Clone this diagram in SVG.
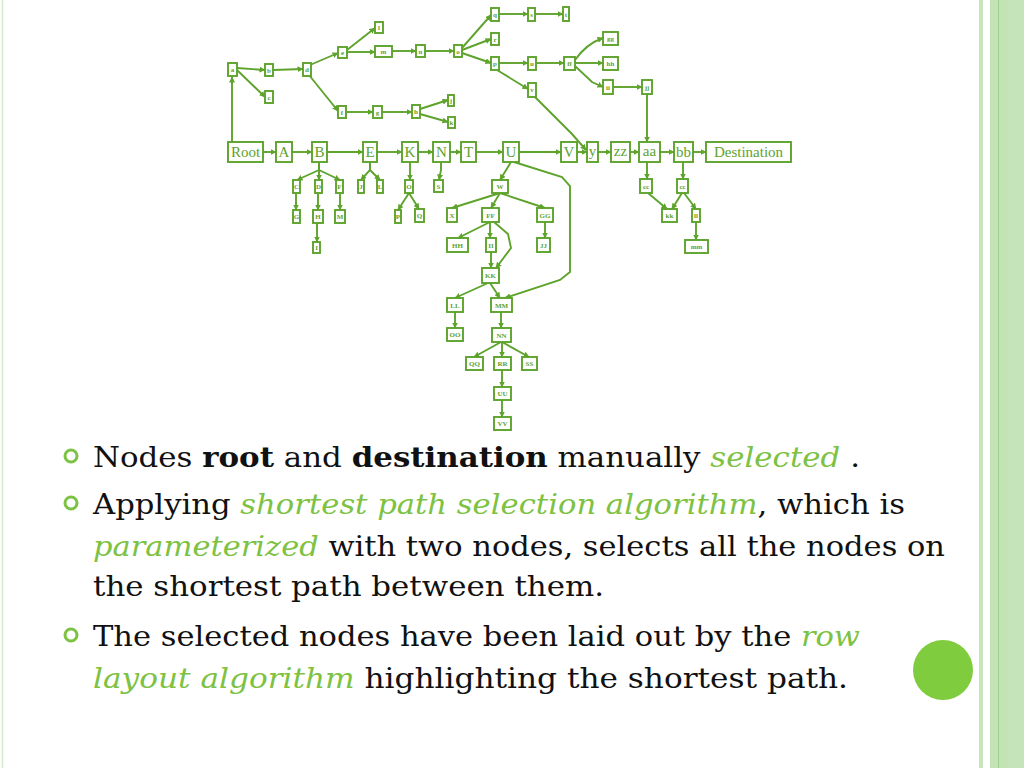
<svg xmlns="http://www.w3.org/2000/svg" width="1024" height="768" viewBox="0 0 1024 768">
<style>
.n rect{fill:#fff;stroke:#5ea32c;stroke-width:1.9}
.n text{font-family:"Liberation Serif",serif;fill:#5ea32c;text-anchor:middle;font-size:7px;font-weight:bold}
.m text{font-size:15px;font-weight:normal}
#edges path{fill:none;stroke:#5ea32c;stroke-width:1.9;marker-end:url(#ah)}
.t{font-family:"DejaVu Serif","Liberation Serif",serif;font-size:28px;fill:#111}
.g{fill:#7dc242;font-style:italic}
.b{font-weight:bold}
.bul{fill:none;stroke:#7dc242;stroke-width:3}
</style>
<defs>
<marker id="ah" markerUnits="userSpaceOnUse" markerWidth="6" markerHeight="6" refX="5.5" refY="3" orient="auto">
<path d="M0,0 L6,3 L0,6 z" fill="#5ea32c"/>
</marker>
</defs>
<rect width="1024" height="768" fill="#fff"/>
<line x1="2.5" y1="0" x2="2.5" y2="768" stroke="#d3ebc8" stroke-width="1.5"/>
<rect x="979" y="0" width="4" height="768" fill="#c8e6bc"/>
<rect x="990" y="0" width="34" height="768" fill="#c6e4b9"/>
<rect x="990" y="0" width="18" height="768" fill="#c3e2b5"/>
<line x1="998.5" y1="0" x2="998.5" y2="768" stroke="#9fcf8a" stroke-width="1"/>
<circle cx="943" cy="670" r="30" fill="#7fcc3e"/>

<g id="edges">
<path d="M263,152 H276"/><path d="M292,152 H312"/><path d="M327,152 H363"/><path d="M377,152 H402"/>
<path d="M418,152 H433"/><path d="M450,152 H461"/><path d="M476,152 H503"/><path d="M519,152 H561"/>
<path d="M577,152 H587"/><path d="M598,152 H611"/><path d="M630,152 H639"/><path d="M660,152 H674"/><path d="M693,152 H706"/>
<path d="M232,142 V77"/>
<path d="M237,68 L265,70"/><path d="M237,70 L265,97"/><path d="M273,70 L303,69"/>
<path d="M310,65 L338,53"/><path d="M309,75 L338,111"/>
<path d="M347,50 L375,28"/><path d="M347,52 H375"/><path d="M392,51 H416"/><path d="M425,51 H454"/>
<path d="M462,48 L491,15"/><path d="M462,50 L491,39"/><path d="M462,53 L491,63"/>
<path d="M499,14 H528"/><path d="M535,14 H563"/><path d="M499,63 H528"/><path d="M536,63 H564"/>
<path d="M497,70 L528,89"/><path d="M535,97 L560,122 L572,134 L586,150"/>
<path d="M575,60 Q586,44 603,38"/><path d="M575,63 H603"/><path d="M575,66 L592,82 L603,87"/>
<path d="M613,87 H642"/><path d="M647,94 V142"/>
<path d="M346,112 H373"/><path d="M382,112 H412"/><path d="M420,109 L448,100"/><path d="M420,114 L448,122"/>
<path d="M319,163 V170 L297,180"/><path d="M319,163 V180"/><path d="M319,163 V170 L340,180"/>
<path d="M296,193 V210"/><path d="M318,193 V210"/><path d="M317,223 V242"/><path d="M340,193 V210"/>
<path d="M370,162 V170 L361,180"/><path d="M370,162 V170 L380,180"/>
<path d="M410,162 V180"/><path d="M409,193 L398,210"/><path d="M409,193 L419,209"/>
<path d="M441,162 V170 L439,180"/>
<path d="M511,162 L500,180"/>
<path d="M500,193 L452,208"/><path d="M500,193 L491,208"/><path d="M500,193 L545,208"/>
<path d="M490,222 L458,238"/><path d="M490,222 V238"/><path d="M545,222 V238"/>
<path d="M491,252 V268"/><path d="M494,222 L508,234 L511,248 L496,268"/>
<path d="M488,283 L455,298"/><path d="M490,283 L500,298"/>
<path d="M514,162 L562,177 L570,186 L570,272 L560,280 L505,298"/>
<path d="M455,312 V328"/><path d="M501,312 V328"/>
<path d="M501,342 L474,357"/><path d="M502,342 V357"/><path d="M502,342 L529,357"/>
<path d="M502,370 V387"/><path d="M502,400 V417"/>
<path d="M647,162 V179"/><path d="M683,162 V179"/>
<path d="M648,193 L667,209"/><path d="M682,193 L672,209"/><path d="M684,193 L696,209"/><path d="M696,222 V240"/>
</g>

<g id="Root" class="n m"><rect x="228" y="142" width="35" height="20"/><text x="245.5" y="157">Root</text></g>
<g id="A" class="n m"><rect x="276" y="142" width="16" height="20"/><text x="284" y="157">A</text></g>
<g id="B" class="n m"><rect x="312" y="142" width="15" height="20"/><text x="319.5" y="157">B</text></g>
<g id="E" class="n m"><rect x="363" y="142" width="14" height="20"/><text x="370" y="157">E</text></g>
<g id="K" class="n m"><rect x="402" y="142" width="16" height="20"/><text x="410" y="157">K</text></g>
<g id="N" class="n m"><rect x="433" y="142" width="17" height="20"/><text x="441.5" y="157">N</text></g>
<g id="T" class="n m"><rect x="461" y="142" width="15" height="20"/><text x="468.5" y="157">T</text></g>
<g id="U" class="n m"><rect x="503" y="142" width="16" height="20"/><text x="511" y="157">U</text></g>
<g id="V" class="n m"><rect x="561" y="142" width="16" height="20"/><text x="569" y="157">V</text></g>
<g id="y" class="n m"><rect x="587" y="142" width="11" height="20"/><text x="592.5" y="156">y</text></g>
<g id="zz" class="n m"><rect x="611" y="142" width="19" height="20"/><text x="620.5" y="156">zz</text></g>
<g id="aa" class="n m"><rect x="639" y="142" width="21" height="20"/><text x="649.5" y="156">aa</text></g>
<g id="bb" class="n m"><rect x="674" y="142" width="19" height="20"/><text x="683.5" y="157">bb</text></g>
<g id="Destination" class="n m"><rect x="706" y="142" width="85" height="20"/><text x="748.5" y="157">Destination</text></g>

<g id="a" class="n"><rect x="228" y="63" width="9" height="13"/><text x="232.5" y="72">a</text></g>
<g id="b" class="n"><rect x="265" y="64" width="8" height="12"/><text x="269" y="73">b</text></g>
<g id="c" class="n"><rect x="265" y="91" width="8" height="12"/><text x="269" y="100">c</text></g>
<g id="d" class="n"><rect x="303" y="63" width="8" height="13"/><text x="307" y="72">d</text></g>
<g id="e" class="n"><rect x="338" y="47" width="9" height="11"/><text x="342.5" y="55">e</text></g>
<g id="l" class="n"><rect x="375" y="22" width="8" height="11"/><text x="379" y="30">l</text></g>
<g id="m" class="n"><rect x="375" y="46" width="17" height="11"/><text x="383.5" y="54">m</text></g>
<g id="n" class="n"><rect x="416" y="45" width="9" height="12"/><text x="420.5" y="54">n</text></g>
<g id="o" class="n"><rect x="454" y="45" width="8" height="12"/><text x="458" y="54">o</text></g>
<g id="q" class="n"><rect x="491" y="8" width="8" height="13"/><text x="495" y="17">q</text></g>
<g id="s" class="n"><rect x="528" y="8" width="7" height="13"/><text x="531.5" y="17">s</text></g>
<g id="t" class="n"><rect x="563" y="7" width="6" height="14"/><text x="566" y="17">t</text></g>
<g id="r" class="n"><rect x="491" y="33" width="8" height="12"/><text x="495" y="42">r</text></g>
<g id="p" class="n"><rect x="491" y="57" width="8" height="13"/><text x="495" y="66">p</text></g>
<g id="u" class="n"><rect x="528" y="57" width="8" height="13"/><text x="532" y="66">u</text></g>
<g id="ff" class="n"><rect x="564" y="57" width="11" height="13"/><text x="569.5" y="66">ff</text></g>
<g id="v" class="n"><rect x="528" y="83" width="8" height="14"/><text x="532" y="92">v</text></g>
<g id="gg" class="n"><rect x="603" y="32" width="15" height="13"/><text x="610.5" y="41">gg</text></g>
<g id="hh" class="n"><rect x="603" y="57" width="15" height="13"/><text x="610.5" y="66">hh</text></g>
<g id="ii" class="n"><rect x="603" y="80" width="10" height="14"/><text x="608" y="90">ii</text></g>
<g id="jj" class="n"><rect x="642" y="80" width="10" height="14"/><text x="647" y="90">jj</text></g>
<g id="f" class="n"><rect x="338" y="106" width="8" height="12"/><text x="342" y="115">f</text></g>
<g id="g" class="n"><rect x="373" y="106" width="9" height="12"/><text x="377.5" y="115">g</text></g>
<g id="h" class="n"><rect x="412" y="105" width="8" height="13"/><text x="416" y="114">h</text></g>
<g id="j" class="n"><rect x="448" y="95" width="6" height="11"/><text x="451" y="103">j</text></g>
<g id="k" class="n"><rect x="448" y="117" width="7" height="11"/><text x="451.5" y="125">k</text></g>

<g id="C" class="n"><rect x="293" y="180" width="7" height="13"/><text x="296.5" y="189">C</text></g>
<g id="D" class="n"><rect x="315" y="180" width="7" height="13"/><text x="318.5" y="189">D</text></g>
<g id="F" class="n"><rect x="336" y="180" width="7" height="13"/><text x="339.5" y="189">F</text></g>
<g id="G" class="n"><rect x="293" y="210" width="7" height="13"/><text x="296.5" y="219">G</text></g>
<g id="H" class="n"><rect x="313" y="210" width="10" height="13"/><text x="318" y="219">H</text></g>
<g id="I" class="n"><rect x="313" y="242" width="7" height="11"/><text x="316.5" y="250">I</text></g>
<g id="M" class="n"><rect x="335" y="210" width="10" height="13"/><text x="340" y="219">M</text></g>
<g id="J" class="n"><rect x="358" y="180" width="6" height="13"/><text x="361" y="189">J</text></g>
<g id="L" class="n"><rect x="377" y="180" width="6" height="13"/><text x="380" y="189">L</text></g>
<g id="O" class="n"><rect x="405" y="180" width="8" height="13"/><text x="409" y="189">O</text></g>
<g id="P" class="n"><rect x="395" y="210" width="6" height="13"/><text x="398" y="219">P</text></g>
<g id="Q" class="n"><rect x="415" y="209" width="9" height="13"/><text x="419.5" y="218">Q</text></g>
<g id="S" class="n"><rect x="434" y="180" width="9" height="12"/><text x="438.5" y="189">S</text></g>
<g id="W" class="n"><rect x="492" y="180" width="16" height="13"/><text x="500" y="189">W</text></g>
<g id="X" class="n"><rect x="447" y="208" width="10" height="14"/><text x="452" y="218">X</text></g>
<g id="FF" class="n"><rect x="482" y="208" width="17" height="14"/><text x="490.5" y="218">FF</text></g>
<g id="GG" class="n"><rect x="537" y="208" width="16" height="14"/><text x="545" y="218">GG</text></g>
<g id="HH" class="n"><rect x="447" y="238" width="21" height="14"/><text x="457.5" y="248">HH</text></g>
<g id="II" class="n"><rect x="486" y="238" width="10" height="14"/><text x="491" y="248">II</text></g>
<g id="JJ" class="n"><rect x="537" y="238" width="13" height="14"/><text x="543.5" y="248">JJ</text></g>
<g id="KK" class="n"><rect x="482" y="268" width="17" height="15"/><text x="490.5" y="278">KK</text></g>
<g id="LL" class="n"><rect x="447" y="298" width="16" height="14"/><text x="455" y="308">LL</text></g>
<g id="MM" class="n"><rect x="491" y="298" width="21" height="14"/><text x="501.5" y="308">MM</text></g>
<g id="OO" class="n"><rect x="447" y="328" width="16" height="13"/><text x="455" y="337">OO</text></g>
<g id="NN" class="n"><rect x="492" y="328" width="19" height="14"/><text x="501.5" y="338">NN</text></g>
<g id="QQ" class="n"><rect x="466" y="357" width="17" height="13"/><text x="474.5" y="366">QQ</text></g>
<g id="RR" class="n"><rect x="494" y="357" width="17" height="13"/><text x="502.5" y="366">RR</text></g>
<g id="SS" class="n"><rect x="522" y="357" width="15" height="13"/><text x="529.5" y="366">SS</text></g>
<g id="UU" class="n"><rect x="494" y="387" width="17" height="13"/><text x="502.5" y="396">UU</text></g>
<g id="VV" class="n"><rect x="494" y="417" width="17" height="13"/><text x="502.5" y="426">VV</text></g>
<g id="cc" class="n"><rect x="640" y="179" width="12" height="14"/><text x="646" y="189">cc</text></g>
<g id="cc2" class="n"><rect x="677" y="179" width="11" height="14"/><text x="682.5" y="189">cc</text></g>
<g id="kk" class="n"><rect x="662" y="209" width="15" height="13"/><text x="669.5" y="218">kk</text></g>
<g id="ll" class="n"><rect x="692" y="209" width="8" height="13"/><text x="696" y="218">ll</text></g>
<g id="mm" class="n"><rect x="685" y="240" width="23" height="13"/><text x="696.5" y="249">mm</text></g>

<g id="bullets">
<circle class="bul" cx="71" cy="456" r="6"/>
<circle class="bul" cx="71" cy="503" r="6"/>
<circle class="bul" cx="71" cy="635" r="6"/>
</g>
<g id="text">
<text class="t" x="93" y="467" textLength="767" lengthAdjust="spacingAndGlyphs">Nodes <tspan class="b">root</tspan> and <tspan class="b">destination</tspan> manually <tspan class="g">selected</tspan> .</text>
<text class="t" x="93" y="514" textLength="812" lengthAdjust="spacingAndGlyphs">Applying <tspan class="g">shortest path selection algorithm</tspan>, which is</text>
<text class="t" x="93" y="556" textLength="852" lengthAdjust="spacingAndGlyphs"><tspan class="g">parameterized</tspan> with two nodes, selects all the nodes on</text>
<text class="t" x="93" y="596" textLength="511" lengthAdjust="spacingAndGlyphs">the shortest path between them.</text>
<text class="t" x="93" y="646" textLength="767" lengthAdjust="spacingAndGlyphs">The selected nodes have been laid out by the <tspan class="g">row</tspan></text>
<text class="t" x="93" y="688" textLength="755" lengthAdjust="spacingAndGlyphs"><tspan class="g">layout algorithm</tspan> highlighting the shortest path.</text>
</g>
</svg>
